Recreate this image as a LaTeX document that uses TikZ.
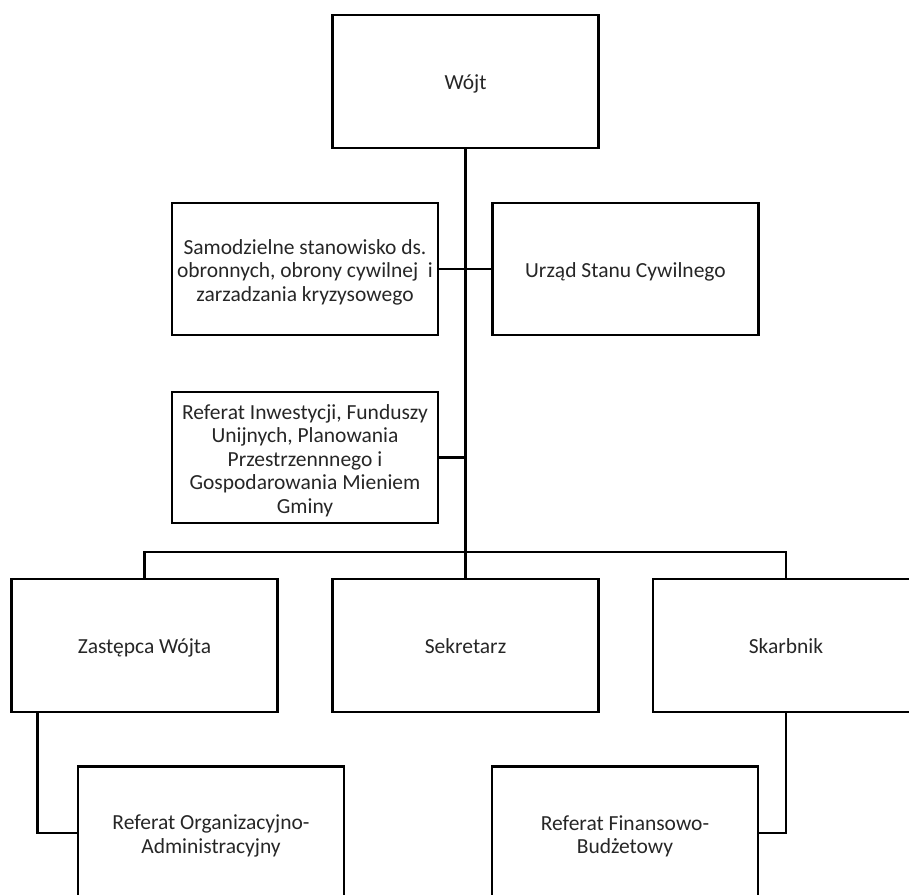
\documentclass[tikz,border=0pt]{standalone}
\usepackage{fontspec}
\setmainfont{Carlito}
\newcommand\toppad{\rule{0pt}{21pt}}
\begin{document}
\begin{tikzpicture}[x=1pt,y=-1pt,
  box/.style={draw, line width=2.4pt, minimum width=266pt, minimum height=133pt, align=center, inner sep=2pt, font=\fontsize{21.5}{23.5}\selectfont, text=black!85},
  one/.style={text height=18pt, text depth=2pt},
  conn/.style={line width=2.4pt}]
\useasboundingbox (0,0) rectangle (909,894);
\clip (0,0) rectangle (909,894);
\node[box, one] (wojt) at (465.5,81.5) {Wójt};
\node[box, minimum height=132pt] (sam) at (305,269) {\toppad Samodzielne stanowisko ds.\\obronnych, obrony cywilnej\ \ i\\zarzadzania kryzysowego};
\node[box, one, minimum height=132pt] (urz) at (625.5,269) {Urząd Stanu Cywilnego};
\node[box, minimum height=131pt] (ref) at (305,457.5) {\toppad Referat Inwestycji, Funduszy\\Unijnych, Planowania\\Przestrzennnego i\\Gospodarowania Mieniem\\Gminy};
\node[box, one] (zas) at (144.5,645.5) {Zastępca Wójta};
\node[box, one] (sek) at (465.5,645.5) {Sekretarz};
\node[box, one] (ska) at (786,645.5) {Skarbnik};
\node[box] (org) at (211,833) {\toppad Referat Organizacyjno-\\Administracyjny};
\node[box] (fin) at (625,833) {\toppad Referat Finansowo-\\Budżetowy};
\coordinate (bus) at (465.5,552);
\draw[conn] (wojt.south) -- (sek.north);
\draw[conn] (sam.east) -- (urz.west);
\draw[conn] (ref.east) -- (ref.east -| wojt.south);
\draw[conn] (zas.north) |- (bus) -| (ska.north);
\draw[conn] ([xshift=27pt]zas.south west) |- (org.west);
\draw[conn] (ska.south) |- (fin.east);
\end{tikzpicture}
\end{document}
